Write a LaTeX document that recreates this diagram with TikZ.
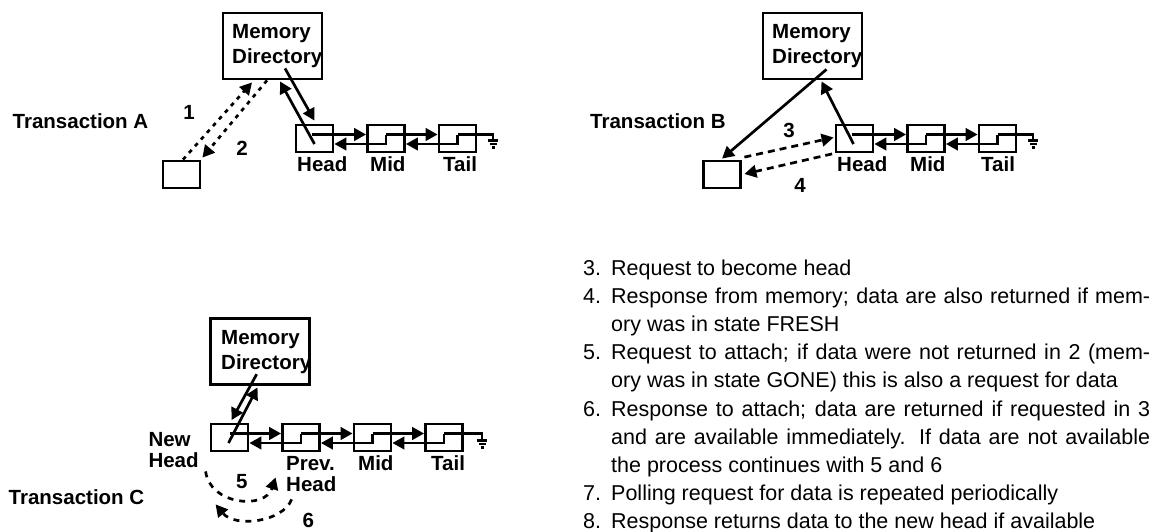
\documentclass[tikz,border=0pt]{standalone}
\usepackage{fontspec}
\setmainfont{Liberation Sans}
\usetikzlibrary{arrows.meta,calc}
\newcommand{\lblfont}{\fontsize{20.5pt}{25pt}\selectfont\bfseries}
\newcommand{\lblfontC}{\fontsize{20.5pt}{21pt}\selectfont\bfseries}
\newcommand{\listfont}{\fontsize{21.5pt}{28.2pt}\selectfont}
\newcommand{\itm}[1]{\hangindent=28pt\hangafter=1\makebox[28pt][l]{#1}}
\begin{document}
\begin{tikzpicture}[x=1pt,y=-1pt,
  box/.style={draw, line width=2.8pt, inner sep=0pt},
  memory/.style={box, minimum width=99pt, minimum height=66pt},
  cell/.style={box, minimum width=37pt, minimum height=27pt},
  conn/.style={line width=2.7pt},
  arr/.style={-{Triangle[length=12pt,width=12.5pt]}},
  lbl/.style={font=\lblfont, inner sep=0pt},
  lblC/.style={font=\lblfontC, inner sep=0pt, align=left},
  dotA/.style={conn, dash pattern=on 4pt off 5pt},
  dashB/.style={conn, dash pattern=on 7pt off 5pt},
  dashC/.style={conn, dash pattern=on 6pt off 6pt},
  gnd/.style={line width=2.2pt}]
\useasboundingbox (0,0) rectangle (1163,531);

%% ---------------- Transaction A ----------------
\node[memory] (memA) at (272.5,46) {};
\node[lbl, anchor=base west, align=left] (memAt) at (232,63) {Memory\\Directory};
\node[box, minimum width=37pt, minimum height=27pt] (reqA) at (181.5,174.5) {};
\node[cell] (hA) at (314.5,138.5) {};
\node[cell] (mA) at (386,138.5) {};
\node[cell] (tA) at (457.5,138.5) {};
\node[lbl, anchor=west] (trA) at (12.5,121) {Transaction A};
\node[lbl] (n1) at (189,112) {1};
\node[lbl] (n2) at (242,148) {2};
\node[lbl, anchor=base west] (lhA) at (297,171.7) {Head};
\node[lbl, anchor=base west] (lmA) at (370,171.7) {Mid};
\node[lbl, anchor=base west] (ltA) at (443,171.7) {Tail};
% chain
\draw[conn,arr] ($(hA.center)+(-3,-4)$) -- ($(mA.west)+(0,-4)$);
\draw[conn,arr] ($(mA.center)+(0,-4)$) -- ($(mA.center)+(0,5.5)$) -- ($(hA.east)+(0,5.5)$);
\draw[conn,arr] ($(mA.center)+(0,-4)$) -- ($(tA.west)+(0,-4)$);
\draw[conn,arr] ($(tA.center)+(0,-4)$) -- ($(tA.center)+(0,5.5)$) -- ($(mA.east)+(0,5.5)$);
\coordinate (gA) at (493,140.5);
\draw[conn] ($(tA.center)+(0,-4)$) -| (gA);
\draw[gnd] ($(gA)+(-5,0)$) -- ($(gA)+(5,0)$)
           ($(gA)+(-3.5,3.5)$) -- ($(gA)+(3.5,3.5)$)
           ($(gA)+(-1.5,7)$) -- ($(gA)+(1.5,7)$);
% memory <-> head
\draw[conn,arr] ($(memA.south)+(12.5,-12)$) -- ($(hA.north)+(0,-3)$);
\draw[conn,arr] ($(hA.center)+(0,5.5)$) -- ($(memA.south)+(7.5,1)$);
% requester <-> memory
\draw[dotA,arr] ($(reqA.north)+(1.5,0)$) -- ($(memA.south)+(-20.5,2)$);
\draw[dotA,arr] ($(memA.south)+(-5.5,0)$) -- ($(reqA.north east)+(1,-2)$);

%% ---------------- Transaction B ----------------
\node[memory] (memB) at (812.5,46) {};
\node[lbl, anchor=base west, align=left] (memBt) at (772,63) {Memory\\Directory};
\node[box, minimum width=37pt, minimum height=27pt] (reqB) at (722,174.5) {};
\node[cell] (hB) at (854.5,138.5) {};
\node[cell] (mB) at (926,138.5) {};
\node[cell] (tB) at (997.5,138.5) {};
\node[lbl, anchor=west] (trB) at (590,121) {Transaction B};
\node[lbl] (n3) at (789,130) {3};
\node[lbl] (n4) at (800,185) {4};
\node[lbl, anchor=base west] (lhB) at (837,171.7) {Head};
\node[lbl, anchor=base west] (lmB) at (910,171.7) {Mid};
\node[lbl, anchor=base west] (ltB) at (981,171.7) {Tail};
% chain
\draw[conn,arr] ($(hB.center)+(-3,-4)$) -- ($(mB.west)+(0,-4)$);
\draw[conn,arr] ($(mB.center)+(0,-4)$) -- ($(mB.center)+(0,5.5)$) -- ($(hB.east)+(0,5.5)$);
\draw[conn,arr] ($(mB.center)+(0,-4)$) -- ($(tB.west)+(0,-4)$);
\draw[conn,arr] ($(tB.center)+(0,-4)$) -- ($(tB.center)+(0,5.5)$) -- ($(mB.east)+(0,5.5)$);
\coordinate (gB) at (1033,140.5);
\draw[conn] ($(tB.center)+(0,-4)$) -| (gB);
\draw[gnd] ($(gB)+(-5,0)$) -- ($(gB)+(5,0)$)
           ($(gB)+(-3.5,3.5)$) -- ($(gB)+(3.5,3.5)$)
           ($(gB)+(-1.5,7)$) -- ($(gB)+(1.5,7)$);
% memory -> requester, head -> memory
\draw[conn,arr] ($(memB.south)+(14,-11)$) -- ($(reqB.north)+(0,-1)$);
\draw[conn,arr] ($(hB.center)+(-1,5.5)$) -- ($(memB.south)+(9,1)$);
% requester <-> head
\draw[dashB,arr] ($(reqB.north east)+(2.5,-2.5)$) -- ($(hB.west)+(-1,-1)$);
\draw[dashB,arr] ($(hB.south west)+(-2.5,0.5)$) -- ($(reqB.east)+(2.5,-0.5)$);

%% ---------------- Transaction C ----------------
\node[memory] (memC) at (260,351.5) {};
\node[lbl, anchor=base west, align=left] (memCt) at (221,369) {Memory\\Directory};
\node[cell] (nC) at (229.5,437.5) {};
\node[cell] (pC) at (301,437.5) {};
\node[cell] (mC) at (372.5,437.5) {};
\node[cell] (tC) at (444,437.5) {};
\node[lbl, anchor=west] (trC) at (8.5,496.7) {Transaction C};
\node[lblC, anchor=base west] (lnC) at (148.3,467.5) {New\\Head};
\node[lblC, anchor=base west] (lpC) at (286,491.5) {Prev.\\Head};
\node[lbl, anchor=base west] (lmC) at (358,470.5) {Mid};
\node[lbl, anchor=base west] (ltC) at (431,470.5) {Tail};
\node[lbl] (n5) at (241.7,481.7) {5};
\node[lbl] (n6) at (308.3,520) {6};
% chain
\draw[conn,arr] ($(nC.center)+(0,-4)$) -- ($(pC.west)+(0,-4)$);
\draw[conn,arr] ($(pC.center)+(0,-4)$) -- ($(pC.center)+(0,5.5)$) -- ($(nC.east)+(0,5.5)$);
\draw[conn,arr] ($(pC.center)+(0,-4)$) -- ($(mC.west)+(0,-4)$);
\draw[conn,arr] ($(mC.center)+(0,-4)$) -- ($(mC.center)+(0,5.5)$) -- ($(pC.east)+(0,5.5)$);
\draw[conn,arr] ($(mC.center)+(0,-4)$) -- ($(tC.west)+(0,-4)$);
\draw[conn,arr] ($(tC.center)+(0,-4)$) -- ($(tC.center)+(0,5.5)$) -- ($(mC.east)+(0,5.5)$);
\coordinate (gC) at (482,440.5);
\draw[conn] ($(tC.center)+(0,-4)$) -| (gC);
\draw[gnd] ($(gC)+(-5,0)$) -- ($(gC)+(5,0)$)
           ($(gC)+(-3.5,3.5)$) -- ($(gC)+(3.5,3.5)$)
           ($(gC)+(-1.5,7)$) -- ($(gC)+(1.5,7)$);
% memory <-> new head
\draw[conn,arr] ($(memC.south)+(-3.3,-11.7)$) -- ($(nC.north)+(2,-2.5)$);
\draw[conn,arr] ($(nC.center)+(-1,5.5)$) -- ($(memC.south)+(-2.5,1.5)$);
% new head <-> prev head
\coordinate (c5s) at ($(nC.south west)+(-4,19)$);
\coordinate (c5e) at ($(pC.south west)+(-5.5,25)$);
\draw[dashC,arr] (c5s) .. controls (210,505) and (265,510) .. (c5e);
\coordinate (c6s) at ($(pC.south west)+(10.5,47)$);
\coordinate (c6e) at ($(nC.south west)+(6,52)$);
\draw[dashC,arr] (c6s) .. controls (283,522) and (235,528) .. (c6e);

%% ---------------- Notes ----------------
\node[anchor=base west, inner sep=0pt, text width=567pt, align=justify, font=\listfont] (notes) at (583,275) {%
\itm{3.}Request to become head\par
\itm{4.}Response from memory; data are also returned if mem-\linebreak ory was in state FRESH\par
\itm{5.}Request to attach; if data were not returned in 2 (mem-\linebreak ory was in state GONE) this is also a request for data\par
\itm{6.}Response to attach; data are returned if requested in 3\linebreak and are available immediately. If data are not available\linebreak the process continues with 5 and 6\par
\itm{7.}Polling request for data is repeated periodically\par
\itm{8.}Response returns data to the new head if available\par};
\end{tikzpicture}
\end{document}
